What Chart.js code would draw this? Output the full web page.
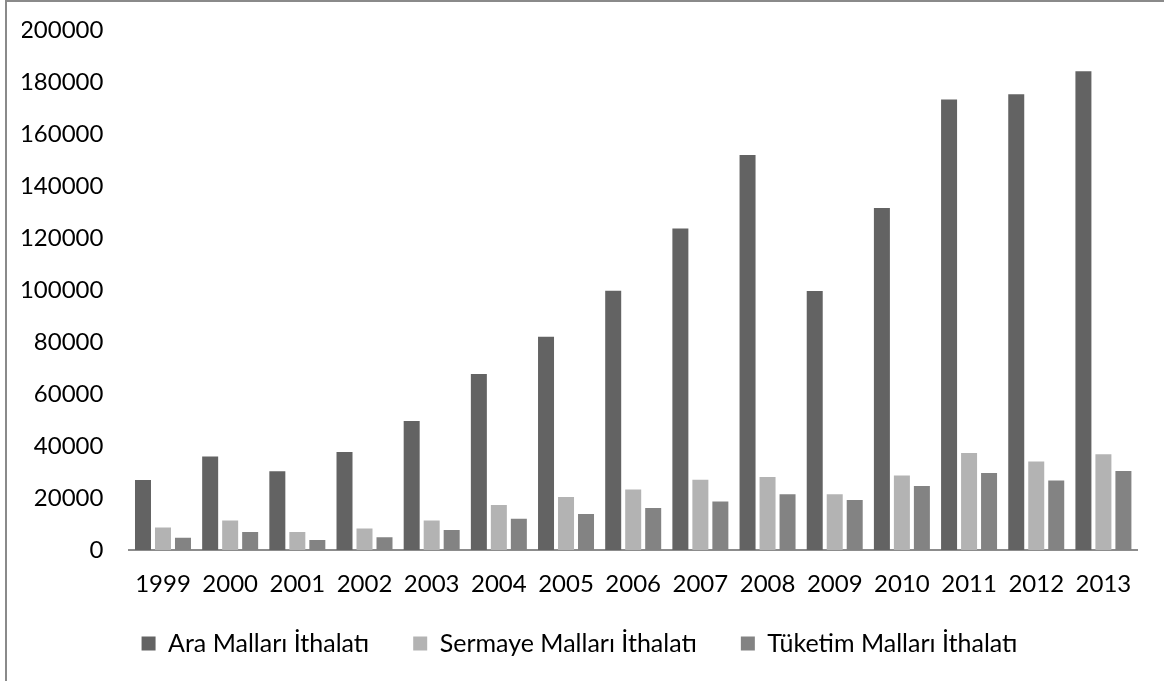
<!DOCTYPE html>
<html lang="tr">
<head>
<meta charset="utf-8">
<title>İthalat</title>
<script src="https://cdn.jsdelivr.net/npm/chart.js@4.4.1/dist/chart.umd.min.js"></script>
<style>
  html, body { margin: 0; padding: 0; background: #ffffff; }
  #wrap { position: relative; width: 1164px; height: 681px; overflow: hidden; }
  #frame {
    position: absolute; left: 5px; top: 0; width: 1200px; height: 700px;
    border-left: 2px solid #8a8a8a; border-top: 2px solid #8a8a8a;
    box-sizing: border-box; pointer-events: none;
  }
  #chart { position: absolute; left: 0; top: 0; }
</style>
</head>
<body>
<div id="wrap">
  <div id="frame"></div>
  <canvas id="chart" width="1164" height="681"></canvas>
</div>
<script>
// Yıllar
const years = ['1999', '2000', '2001', '2002', '2003', '2004', '2005', '2006',
               '2007', '2008', '2009', '2010', '2011', '2012', '2013'];

// İthalat (milyon $)
const araMallari = [26900, 36000, 30300, 37700, 49600, 67700, 82000, 99700,
                    123700, 151900, 99600, 131500, 173300, 175300, 184100];
const sermayeMallari = [8700, 11300, 6900, 8300, 11300, 17300, 20400, 23300,
                        27000, 28100, 21400, 28700, 37300, 34000, 36800];
const tuketimMallari = [4700, 6900, 3800, 4900, 7700, 12000, 13800, 16200,
                        18700, 21400, 19200, 24600, 29600, 26700, 30400];

const seriesNames = ['Ara Malları İthalatı', 'Sermaye Malları İthalatı', 'Tüketim Malları İthalatı'];

const yMin = 0, yMax = 200000, yStep = 20000;

const FONT = 'Lato, "Open Sans", "DejaVu Sans", sans-serif';

const barStyle = { borderWidth: 0, categoryPercentage: 0.893, barPercentage: 0.8 };

new Chart(document.getElementById('chart'), {
  type: 'bar',
  data: {
    labels: years,
    datasets: [
      Object.assign({ label: seriesNames[0], data: araMallari, backgroundColor: '#636363' }, barStyle),
      Object.assign({ label: seriesNames[1], data: sermayeMallari, backgroundColor: '#b3b3b3' }, barStyle),
      Object.assign({ label: seriesNames[2], data: tuketimMallari, backgroundColor: '#838383' }, barStyle)
    ]
  },
  options: {
    responsive: false,
    devicePixelRatio: 1,
    animation: false,
    layout: { padding: { left: 22, right: 27, top: 30, bottom: 15 } },
    plugins: {
      tooltip: { enabled: false },
      legend: {
        position: 'bottom',
        align: 'center',
        labels: {
          boxWidth: 14,
          boxHeight: 14,
          padding: 44,
          color: '#000000',
          font: { family: FONT, size: 25 }
        }
      }
    },
    scales: {
      x: {
        grid: { display: false, drawTicks: false },
        border: { display: true, color: '#8c8c8c', width: 2 },
        // labels hang below the axis line, under the scale box
        ticks: { color: '#000000', mirror: true, padding: -49, maxRotation: 0, autoSkip: false,
                 font: { family: FONT, size: 24 } },
        afterFit: (scale) => { scale.height = 37; }
      },
      y: {
        min: yMin,
        max: yMax,
        grid: { display: false, drawTicks: true, tickLength: 11 },
        border: { display: false },
        ticks: { stepSize: yStep, color: '#000000', padding: 15,
                 font: { family: FONT, size: 24 },
                 callback: (v) => String(v) },
        afterFit: (scale) => { scale.width = 107.4; }
      }
    }
  }
});
</script>
</body>
</html>
